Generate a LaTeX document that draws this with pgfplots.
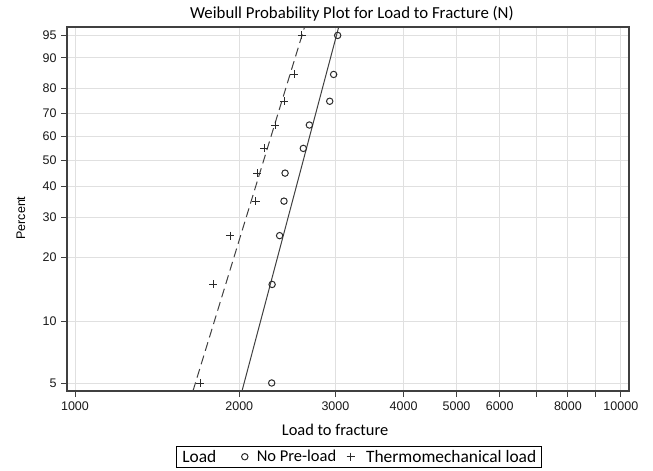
\documentclass[border=0pt]{standalone}
\usepackage{fontspec}
\setmainfont{Carlito}
\newfontfamily\arialfont{Liberation Sans}
\usepackage{pgfplots}
\pgfplotsset{compat=1.18}
\definecolor{axisgray}{HTML}{404040}
\definecolor{gridgray}{HTML}{E0E0E0}
\definecolor{markgray}{HTML}{2A2A2A}
\pgfplotsset{
  circimg/.style={legend image code/.code={\path (0bp,0bp) (17.5bp,0bp); \draw[##1] plot coordinates {(8bp,0bp)};}},
  plusimg/.style={legend image code/.code={\path (0bp,0bp) (21bp,0bp); \draw[##1] plot coordinates {(8bp,0bp)};}},
}
\begin{document}
\begin{tikzpicture}
\begin{axis}[
  scale only axis,
  width=562bp, height=364bp,
  xmode=log, log basis x=10,
  xmin=967, xmax=10352,
  ymin=-3.064, ymax=1.1957,
  xtick={1000,2000,3000,4000,5000,6000,7000,8000,9000,10000},
  xticklabels={1000,2000,3000,4000,5000,6000,{},8000,{},10000},
  minor xtick={},
  ytick={-2.970195,-2.250367,-1.499940,-1.030930,-0.671727,-0.366513,-0.087422,0.185627,0.475885,0.834032,1.097189},
  yticklabels={5,10,20,30,40,50,60,70,80,90,95},
  tick align=outside, tick pos=left,
  major tick length=6bp,
  /pgf/number format/assume math mode=true,
  ticklabel style={font=\arialfont\fontsize{12.5bp}{14bp}\selectfont, text=black!90},
  xticklabel style={yshift=-1bp},
  yticklabel style={xshift=-1bp},
  tick style={axisgray, line width=0.9bp},
  axis line style={axisgray, line width=1.4bp},
  grid=major,
  major grid style={gridgray, line width=0.9bp},
  title={Weibull Probability Plot for Load to Fracture (N)},
  title style={font=\fontsize{16.8bp}{19bp}\selectfont, at={(axis description cs:0.507,1)}, anchor=base, yshift=3bp},
  xlabel={Load to fracture},
  xlabel style={font=\fontsize{16.4bp}{19bp}\selectfont, at={(axis description cs:0.477,0)}, anchor=base, yshift=-44bp},
  ylabel={Percent},
  ylabel style={font=\arialfont\fontsize{12.5bp}{14bp}\selectfont, at={(axis description cs:-0.0819,0.475)}, anchor=center},
  legend columns=3,
  legend style={font=\fontsize{17.4bp}{19bp}\selectfont, at={(axis description cs:0.520,-0.1511)}, anchor=north, draw=black, line width=0.9bp, inner ysep=1.5bp, inner xsep=3.5bp,
    /tikz/column 2/.style={column sep=18bp}, /tikz/column 4/.style={column sep=4bp}},
  clip=true,
]
\addlegendimage{empty legend}
\addlegendentry{Load}
\addplot[only marks, mark=o, mark size=3.2bp, markgray, line width=1bp, circimg] coordinates {
 (2293,-2.970195) (2297,-1.816960) (2371,-1.245899) (2415,-0.842151) (2426,-0.514437)
 (2620,-0.225010) (2688,0.048620) (2929,0.326634) (2978,0.640337) (3029,1.097189)};
\addlegendentry{\fontsize{16.5bp}{19bp}\selectfont No Pre-load}
\addplot[only marks, mark=+, mark size=4bp, markgray, line width=0.9bp, plusimg] coordinates {
 (1695,-2.970195) (1792,-1.816960) (1923,-1.245899) (2143,-0.842151) (2158,-0.514437)
 (2220,-0.225010) (2325,0.048620) (2418,0.326634) (2522,0.640337) (2603,1.097189)};
\addlegendentry{Thermomechanical load}
\addplot[axisgray, line width=1bp, forget plot] coordinates {(2023,-3.064) (3042,1.1957)};
\addplot[axisgray, line width=1bp, dash pattern=on 9bp off 5bp, forget plot] coordinates {(1645,-3.064) (2634,1.1957)};
\end{axis}
\pgfresetboundingbox
\path[use as bounding box] (-67bp,-80bp) rectangle (586bp,391bp);
\end{tikzpicture}
\end{document}
